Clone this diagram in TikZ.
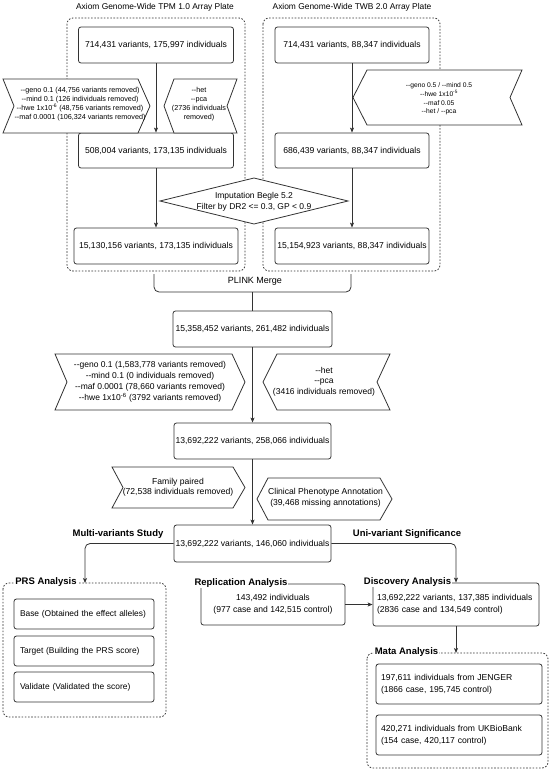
\documentclass[tikz,border=0pt]{standalone}
\usepackage{fontspec}
\setmainfont{Liberation Sans}[Ligatures=TeXOff]
\usetikzlibrary{arrows.meta,calc}
\begin{document}
\begin{tikzpicture}[x=1pt,y=-1pt,
  ln/.style={draw=black!80, line width=0.8pt},
  arr/.style={ln, -{Stealth[length=5pt,width=4pt,inset=1.2pt]}},
  box/.style={ln, rounded corners=2.5pt, fill=white, align=center, inner sep=0pt, font=\fontsize{8.6}{12}\selectfont},
  lbox/.style={box, align=left},
  pbox/.style={box, align=left, text width=128pt, inner xsep=6pt, minimum height=30pt, font=\fontsize{8.4}{10}\selectfont},
  cont/.style={draw=black!80, line width=0.8pt, dash pattern=on 1.6pt off 1.6pt, rounded corners=6pt},
  flt/.style={ln, fill=white, line join=miter},
  ftxt/.style={align=center, inner sep=0pt, font=\fontsize{8.5}{11}\selectfont},
  lbl/.style={font=\bfseries\fontsize{9.5}{11}\selectfont, inner sep=1pt, fill=white},
  ttl/.style={font=\fontsize{8.4}{10}\selectfont, inner sep=0pt}]
\useasboundingbox (0,0) rectangle (550,770);

% titles and containers
\node[ttl] (t1) at (155,7) {Axiom Genome-Wide TPM 1.0 Array Plate};
\node[ttl] (t2) at (352,7) {Axiom Genome-Wide TWB 2.0 Array Plate};
\draw[cont] (67,18) rectangle (245,271);
\draw[cont] (263,18) rectangle (440,271);

% top boxes
\node[box, minimum width=155pt, minimum height=36pt] (a1) at (156,45) {714,431 variants, 175,997 individuals};
\node[box, minimum width=155pt, minimum height=35pt] (a2) at (156,150.5) {508,004 variants, 173,135 individuals};
\node[box, minimum width=164pt, minimum height=36pt] (a3) at (156,246) {15,130,156 variants, 173,135 individuals};
\node[box, minimum width=154pt, minimum height=36pt] (b1) at (352,45) {714,431 variants, 88,347 individuals};
\node[box, minimum width=154pt, minimum height=35pt] (b2) at (352,150.5) {686,439 variants, 88,347 individuals};
\node[box, minimum width=154pt, minimum height=36pt] (b3) at (352,246) {15,154,923 variants, 88,347 individuals};
\draw[arr] (a1) -- (a2);
\draw[arr] (a2) -- (a3);
\draw[arr] (b1) -- (b2);
\draw[arr] (b2) -- (b3);

% top filters
\draw[flt] (3,79) -- (138,79) -- (150,106) -- (138,133) -- (3,133) -- (14,106) -- cycle;
\node[ftxt, font=\fontsize{7.2}{9}\selectfont] (g1) at (80,104) {--geno 0.1 (44,756 variants removed)\\--mind 0.1 (126 individuals removed)\\--hwe 1x10\textsuperscript{-6} (48,756 variants removed)\\--maf 0.0001 (106,324 variants removed)};
\draw[flt] (174,79) -- (237,79) -- (227,106) -- (237,133) -- (174,133) -- (164,106) -- cycle;
\node[ftxt, font=\fontsize{7.2}{9}\selectfont] (h1) at (199,104) {--het\\--pca\\(2736 individuals\\removed)};
\draw[flt] (367,70) -- (522,70) -- (510,97.5) -- (522,125) -- (367,125) -- (353,97.5) -- cycle;
\node[ftxt, font=\fontsize{6.7}{8.7}\selectfont] (g2) at (439,99) {--geno 0.5 / --mind 0.5\\--hwe 1x10\textsuperscript{-5}\\--maf 0.05\\--het / --pca};

% imputation diamond
\draw[flt] (160,201) -- (254,178) -- (348,201) -- (254,224) -- cycle;
\node[ftxt, font=\fontsize{8.5}{11}\selectfont] (imp) at (254,201.5) {Imputation Begle 5.2\\Filter by DR2 <= 0.3, GP < 0.9};

% PLINK merge brace
\draw[ln, rounded corners=5pt] (154,274) -- (154,292) -- (351,292) -- (351,274);
\node[font=\fontsize{9}{11}\selectfont, inner sep=0pt] (pm) at (255,281) {PLINK Merge};
\coordinate (brc) at (252.5,292);

% main column
\node[box, minimum width=159pt, minimum height=36pt] (m1) at (252.5,329) {15,358,452 variants, 261,482 individuals};
\node[box, minimum width=157pt, minimum height=36pt] (m2) at (252.5,441) {13,692,222 variants, 258,066 individuals};
\node[box, minimum width=157pt, minimum height=37pt] (m3) at (252.5,543.5) {13,692,222 variants, 146,060 individuals};
\draw[ln] (brc) -- (m1.north);
\draw[arr] (m1) -- (m2);
\draw[arr] (m2) -- (m3);

% middle filters
\draw[flt] (55,354) -- (232,354) -- (245,382) -- (232,410) -- (55,410) -- (67,382) -- cycle;
\node[ftxt] (g3) at (150,381.5) {--geno 0.1 (1,583,778 variants removed)\\--mind 0.1 (0 individuals removed)\\--maf 0.0001 (78,660 variants removed)\\--hwe 1x10\textsuperscript{-6} (3792 variants removed)};
\draw[flt] (277,354) -- (390,354) -- (377,382) -- (390,410) -- (277,410) -- (263,382) -- cycle;
\node[ftxt, font=\fontsize{8.5}{10.5}\selectfont] (h2) at (324,381.5) {--het\\--pca\\(3416 individuals removed)};
\draw[flt] (112,467) -- (233,467) -- (245,487.5) -- (233,508) -- (112,508) -- (123,487.5) -- cycle;
\node[ftxt, font=\fontsize{8.6}{10.5}\selectfont] (fp) at (178,487.5) {Family paired\\(72,538 individuals removed)};
\draw[flt] (268,478) -- (380,478) -- (392,499) -- (380,520) -- (268,520) -- (257,499) -- cycle;
\node[ftxt, font=\fontsize{8.6}{11}\selectfont] (cp) at (325.5,497.5) {Clinical Phenotype Annotation\\(39,468 missing annotations)};

% study labels and branches
\node[lbl, fill=none] (ms) at (118,534) {Multi-variants Study};
\node[lbl, fill=none] (us) at (407,534) {Uni-variant Significance};

% PRS analysis
\draw[cont] (3,583) rectangle (166,717);
\coordinate (prsTop) at (85,583);
\node[lbl] (prsl) at (46,582) {PRS Analysis};
\draw[arr, rounded corners=5pt] (m3.west) -| (prsTop);
\node[pbox] (p1) at (84,614) {Base (Obtained the effect alleles)};
\node[pbox] (p2) at (84,651) {Target (Building the PRS score)};
\node[pbox] (p3) at (84,687) {Validate (Validated the score)};

% replication and discovery
\node[box, minimum width=144pt, minimum height=41pt] (rep) at (273,604.5) {143,492 individuals\\(977 case and 142,515 control)};
\node[lbl] (repl) at (241,583) {Replication Analysis};
\node[lbox, text width=158pt, inner xsep=4pt, minimum height=43pt] (disc) at (456,604.5) {13,692,222 variants, 137,385 individuals\\(2836 case and 134,549 control)};
\node[lbl] (discl) at (407.5,582) {Discovery Analysis};
\draw[arr, rounded corners=5pt] (m3.east) -| (disc.north);
\draw[arr] (rep.east) -- (disc.west);

% meta analysis
\draw[cont] (367,653) rectangle (548,768);
\coordinate (mataTop) at (456,653);
\node[lbl] (matal) at (406.5,652) {Mata Analysis};
\draw[arr] (disc.south) -- (mataTop);
\node[lbox, text width=156pt, inner xsep=5pt, minimum height=40pt] (j1) at (459,684) {197,611 individuals from JENGER\\(1866 case, 195,745 control)};
\node[lbox, text width=156pt, inner xsep=5pt, minimum height=40pt] (j2) at (459,735) {420,271 individuals from UKBioBank\\(154 case, 420,117 control)};
\end{tikzpicture}
\end{document}
